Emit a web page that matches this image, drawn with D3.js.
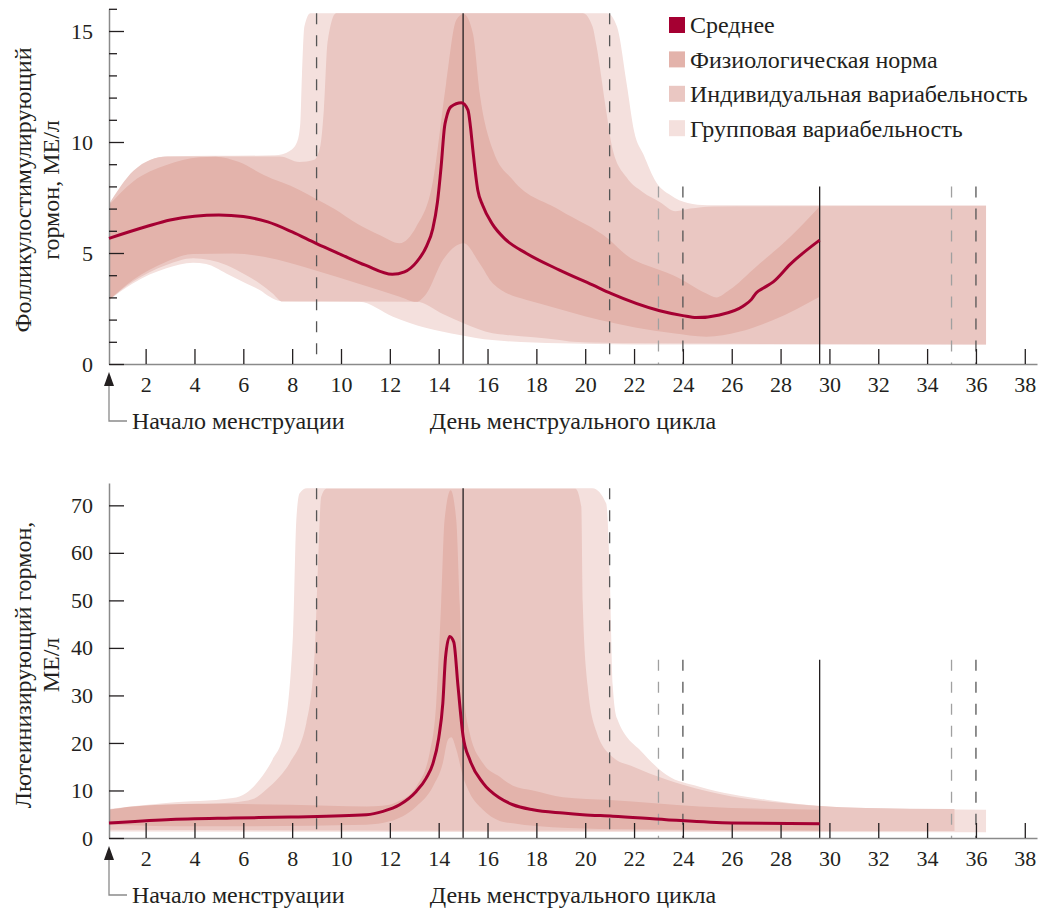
<!DOCTYPE html>
<html>
<head>
<meta charset="utf-8">
<script src="https://cdn.jsdelivr.net/npm/d3@7/dist/d3.min.js"></script>
<style>
    body { margin: 0; background: #fff; }
    svg text { font-family: "Liberation Serif", "DejaVu Serif", serif; fill: #231f20; }
</style>
</head>
<body>
<svg id="chart" width="1051" height="909"></svg>
<script>
// Данные: день цикла и уровень гормона
const dayTicks = [2, 4, 6, 8, 10, 12, 14, 16, 18, 20, 22, 24, 26, 28, 30, 32, 34, 36, 38];
const fshTicks = [0, 5, 10, 15];
const fshMinorTicks = [1, 2, 3, 4, 6, 7, 8, 9, 11, 12, 13, 14, 16];
const lhTicks = [0, 10, 20, 30, 40, 50, 60, 70];

const legendLabels = ['Среднее', 'Физиологическая норма', 'Индивидуальная вариабельность', 'Групповая вариабельность'];

// вертикальные отметки (дни)
const solidDays = [15, 29.6];
const darkDashDays = [9, 21, 24, 36];
const lightDashDays = [23, 35];
const tallDays = [9, 15, 21];
const fshShortTop = 8;
const lhShortTop = 37.5;
const fshPlateau = 15.8;
const lhPlateau = 73.6;

// ФСГ
const fshMean = [[0.5,5.66],[2,6.18],[3,6.49],[4,6.66],[5,6.71],[6,6.64],[7,6.4],[8,5.95],[9,5.42],[10,4.93],[11,4.45],[12.1,4.04],[12.6,4.15],[13.1,4.6],[13.5,5.3],[13.76,6.1],[13.95,7.3],[14.1,8.89],[14.24,10.69],[14.31,11.07],[14.5,11.59],[14.93,11.77],[15.2,11.44],[15.3,10.7],[15.4,9.64],[15.6,7.84],[15.8,7.15],[16.2,6.3],[16.7,5.65],[17.6,4.98],[18.95,4.23],[20.3,3.56],[21.05,3.18],[23.05,2.4],[24,2.18],[24.55,2.09],[25.5,2.21],[26.46,2.6],[26.8,2.9],[27.0,3.2],[27.3,3.42],[27.7,3.7],[28.4,4.5],[29.6,5.58]];
const fshPhysioUpper = [[0.5,7.16],[1.48,8.21],[2.85,8.96],[4.2,9.31],[4.87,9.34],[5.8,9.11],[6.84,8.51],[8.3,7.84],[9.0,7.42],[9.7,7.01],[10.7,6.3],[11.6,5.8],[12.4,5.44],[13.08,6.18],[13.75,8.15],[14.3,12.6],[14.72,15.5],[15.02,15.77],[15.4,14.9],[15.68,12.2],[16.22,9.64],[17.04,8.29],[18.95,6.94],[21,5.59],[21.68,4.91],[23.05,4.23],[23.6,4.0],[24.96,3.18],[25.37,3.0],[25.9,3.33],[27,4.38],[28.4,5.73],[29.6,7.09]];
const fshPhysioLower = [[0.5,2.88],[1.48,3.78],[2.85,4.61],[3.94,4.95],[5.57,4.98],[6.84,4.83],[9.0,4.2],[10.76,3.6],[12.4,3.03],[13.08,2.8],[13.5,3.18],[14.17,4.68],[15.02,5.44],[15.68,4.53],[16.22,3.63],[17.6,2.88],[18.13,2.73],[20.6,1.98],[23.6,1.38],[24.96,1.23],[26.3,1.45],[27.7,1.98],[29.6,3.03]];
const fshIndivUpper = [[0.5,7.2],[1.5,8.7],[2.2,9.2],[2.9,9.35],[7.5,9.35],[8.3,9.1],[8.9,9.2],[9.15,9.8],[9.3,11.5],[9.45,14.5],[9.8,15.8],[19.9,15.8],[20.3,15.2],[20.45,14.4],[20.86,11.4],[21.13,9.64],[21.7,8.4],[22.35,7.75],[23.05,7.3],[23.7,6.88],[24.3,7.0],[25.2,7.1],[36.42,7.12]];
const fshIndivLower = [[0.5,2.88],[1.47,3.7],[2.85,4.46],[3.94,4.76],[5.3,4.46],[6.12,4.0],[6.67,3.63],[7.2,3.18],[7.6,2.81],[13.08,2.8],[14.17,2.25],[15.02,1.83],[16.2,1.38],[16.77,1.31],[18.95,1.08],[19.5,1.0],[22.2,0.93],[36.42,0.88]];
const fshGroupUpper = [[0.5,7.16],[1.9,9.0],[2.8,9.35],[7.3,9.4],[7.9,9.6],[8.2,10.0],[8.33,10.8],[8.4,13.0],[8.5,15.2],[8.75,15.8],[20.9,15.8],[21.3,15.2],[21.7,12.6],[22.0,10.5],[22.4,9.4],[22.9,8.2],[23.5,7.6],[24.2,7.25],[25.0,7.15],[36.42,7.15]];
const fshGroupLower = [[0.5,2.88],[1.47,3.63],[2.85,4.31],[3.94,4.56],[4.48,4.5],[5.3,4.08],[6.12,3.63],[6.67,3.33],[7.08,3.03],[7.5,2.84],[10.76,2.8],[12.13,2.13],[13.5,1.62],[14.86,1.31],[16.2,1.08],[18.95,0.93],[22,0.88],[36.42,0.88]];

// ЛГ
const lhMean = [[0.5,3.15],[2.85,3.85],[5.57,4.2],[7.96,4.41],[11.04,4.9],[11.72,5.6],[12.4,7.0],[13.08,9.8],[13.49,12.6],[13.76,15.6],[14.0,21],[14.17,28.4],[14.28,38],[14.45,42.4],[14.62,41.2],[14.79,32],[15.0,21.4],[15.27,16.5],[15.81,11.6],[16.5,8.4],[17.04,7.0],[17.86,5.95],[19.09,5.25],[19.9,4.9],[21.13,4.6],[23.32,3.85],[26.0,3.15],[29.6,3.0]];
const lhPhysioUpper = [[0.5,5.95],[1.48,6.65],[4.2,7.2],[7.96,7.0],[11.04,6.65],[11.7,6.8],[12.3,7.6],[13.08,10.8],[13.63,17.9],[13.9,28.4],[14.1,49.4],[14.24,66.9],[14.49,73.2],[14.72,66.9],[14.86,49.4],[15.0,31.9],[15.27,22.1],[15.81,15.8],[16.5,12.9],[17.04,11.0],[17.86,10.0],[19.09,8.6],[21,8.0],[24.68,6.65],[29.6,5.95]];
const lhPhysioLower = [[0.5,2.8],[4.2,2.45],[11.04,2.8],[11.99,3.5],[13.08,6.65],[13.76,10.8],[14.17,15.8],[14.38,20.7],[14.52,21.2],[14.72,18.6],[15.0,12.9],[15.27,9.46],[15.81,5.95],[16.5,3.6],[17.04,3.1],[18,2.5],[20.6,1.9],[29.6,1.6]];
const lhIndivUpper = [[0.5,5.95],[2.85,6.86],[5.57,7.49],[6.4,8.2],[6.94,10.2],[7.5,13],[7.9,15.8],[8.58,24.2],[8.92,38.9],[9.05,56.4],[9.19,71.8],[9.4,73.5],[19.6,73.5],[19.84,69.7],[19.9,49.4],[20.1,32],[20.45,22.5],[21.13,17],[21.95,15.05],[23.32,12.3],[24,11.2],[26,8.75],[28.1,7.36],[29.46,6.8],[31.5,6.3],[35.13,6.1]];
const lhIndivLower = [[0.5,1.75],[10,1.6],[20,1.5],[35.13,1.45]];
const lhGroupUpper = [[0.5,6.1],[2.85,7.36],[5.57,8.4],[6.12,9.46],[6.67,12.3],[7.2,16.5],[7.62,21.4],[8.03,42.4],[8.17,66.9],[8.3,72.5],[8.6,73.6],[20.3,73.6],[20.86,70.4],[21.0,56.4],[21.13,31.9],[21.3,25.2],[22.36,17.9],[23.32,13.3],[24.68,10.8],[27.41,8.05],[29.46,6.8],[31.5,6.3],[36.42,5.95]];
const lhGroupLower = [[0.5,1.35],[36.42,1.2]];

const colors = {
    mean: '#a50032',
    physio: '#e3b3ab',
    indiv: '#eac7c2',
    group: '#f4e0dd',
    axis: '#8a8a8a',
    ink: '#231f20'
};

const svg = d3.select('#chart');
const x = d3.scaleLinear().domain([0.5, 38.5]).range([109, 1037]);

function drawBand(g, id, upper, lower, color, y) {
    // область между двумя кривыми: нижняя граница, обрезанная верхней
    const top = y.domain()[1];
    const under = d3.area().curve(d3.curveMonotoneX)
        .x(d => x(d[0])).y0(y(0)).y1(d => y(d[1]));
    const over = d3.area().curve(d3.curveMonotoneX)
        .x(d => x(d[0])).y0(y(top)).y1(d => y(d[1]));
    g.append('clipPath').attr('id', id)
        .append('path').datum(upper).attr('d', under);
    g.append('path').datum(lower)
        .attr('d', over)
        .attr('fill', color)
        .attr('clip-path', `url(#${id})`);
}

function drawPanel(p) {
    const g = svg.append('g');
    const y = p.y;

    drawBand(g, p.id + '-group', p.groupUpper, p.groupLower, colors.group, y);
    drawBand(g, p.id + '-indiv', p.indivUpper, p.indivLower, colors.indiv, y);
    drawBand(g, p.id + '-physio', p.physioUpper, p.physioLower, colors.physio, y);

    // вертикальные линии
    const lineTop = d => tallDays.includes(d) ? y(p.plateau) : y(p.shortTop);
    const vlines = [
        ...solidDays.map(d => ({ d, stroke: colors.ink, dash: null })),
        ...darkDashDays.map(d => ({ d, stroke: '#555', dash: '11,11' })),
        ...lightDashDays.map(d => ({ d, stroke: '#a0a0a0', dash: '11,11' }))
    ];
    g.selectAll('.vline').data(vlines).enter().append('line')
        .attr('x1', v => x(v.d)).attr('x2', v => x(v.d))
        .attr('y1', v => lineTop(v.d)).attr('y2', y(0))
        .attr('stroke', v => v.stroke)
        .attr('stroke-width', 1.3)
        .attr('stroke-dasharray', v => v.dash);

    // оси
    const xAxis = g.append('g')
        .attr('transform', `translate(0,${y(0)})`)
        .call(d3.axisBottom(x).tickValues(dayTicks).tickSizeInner(-15).tickSizeOuter(0).tickPadding(12));
    const yAxis = g.append('g')
        .attr('transform', `translate(${x(0.5)},0)`)
        .call(d3.axisLeft(y).tickValues(p.yTicks).tickSizeInner(-15).tickSizeOuter(0).tickPadding(16));
    if (p.minorTicks) {
        g.append('g')
            .attr('transform', `translate(${x(0.5)},0)`)
            .call(d3.axisLeft(y).tickValues(p.minorTicks).tickSizeInner(-8).tickSizeOuter(0).tickFormat(''))
            .select('.domain').remove();
    }
    [xAxis, yAxis].forEach(a => {
        a.select('.domain').attr('stroke', colors.axis).attr('stroke-width', 1.5);
        a.selectAll('text').style('font-size', '22px').attr('fill', colors.ink);
    });
    g.selectAll('.tick line').attr('stroke', colors.ink).attr('stroke-width', 1.3);

    // среднее
    g.append('path').datum(p.mean)
        .attr('fill', 'none')
        .attr('stroke', colors.mean)
        .attr('stroke-width', 3)
        .attr('d', d3.line().curve(d3.curveMonotoneX).x(d => x(d[0])).y(d => y(d[1])));

    // стрелка «Начало менструации»
    const ax = x(0.5), base = y(0);
    g.append('path')
        .attr('d', `M${ax},${base + 22}V${p.labelY}H${ax + 18}`)
        .attr('fill', 'none').attr('stroke', colors.axis).attr('stroke-width', 1.3);
    g.append('path')
        .attr('d', `M${ax},${base + 8}L${ax - 5},${base + 22}L${ax + 5},${base + 22}Z`)
        .attr('fill', colors.ink);
    g.append('text').attr('x', ax + 23).attr('y', p.labelY).attr('dy', '0.35em')
        .style('font-size', '24px').text('Начало менструации');
    g.append('text').attr('x', 573).attr('y', p.labelY).attr('dy', '0.35em')
        .attr('text-anchor', 'middle').style('font-size', '24px').text('День менструального цикла');

    // подпись оси Y
    const t = g.append('text')
        .attr('transform', `translate(0,${p.titleY}) rotate(-90)`)
        .attr('text-anchor', 'middle').style('font-size', '24px');
    p.title.forEach((line, i) => {
        t.append('tspan').attr('x', 0).attr('y', 31 + i * 28).text(line);
    });
}

drawPanel({
    id: 'fsh',
    y: d3.scaleLinear().domain([0, 16]).range([364, 8.8]),
    yTicks: fshTicks, minorTicks: fshMinorTicks,
    plateau: fshPlateau, shortTop: fshShortTop,
    mean: fshMean,
    physioUpper: fshPhysioUpper, physioLower: fshPhysioLower,
    indivUpper: fshIndivUpper, indivLower: fshIndivLower,
    groupUpper: fshGroupUpper, groupLower: fshGroupLower,
    labelY: 421, titleY: 190,
    title: ['Фолликулостимулирующий', 'гормон, МЕ/л']
});

drawPanel({
    id: 'lh',
    y: d3.scaleLinear().domain([0, 74.7]).range([838, 483]),
    yTicks: lhTicks, minorTicks: null,
    plateau: lhPlateau, shortTop: lhShortTop,
    mean: lhMean,
    physioUpper: lhPhysioUpper, physioLower: lhPhysioLower,
    indivUpper: lhIndivUpper, indivLower: lhIndivLower,
    groupUpper: lhGroupUpper, groupLower: lhGroupLower,
    labelY: 895, titleY: 665,
    title: ['Лютеинизирующий гормон,', 'МЕ/л']
});

// легенда
const legendColors = [colors.mean, colors.physio, colors.indiv, colors.group];
const legend = svg.append('g').attr('transform', 'translate(669,17)');
const items = legend.selectAll('g').data(legendLabels).enter().append('g')
    .attr('transform', (d, i) => `translate(0,${i * 34.4})`);
items.append('rect').attr('width', 16).attr('height', 16)
    .attr('fill', (d, i) => legendColors[i]);
items.append('text').attr('x', 21).attr('y', 8).attr('dy', '0.35em')
    .style('font-size', '24px').text(d => d);
</script>
</body>
</html>
